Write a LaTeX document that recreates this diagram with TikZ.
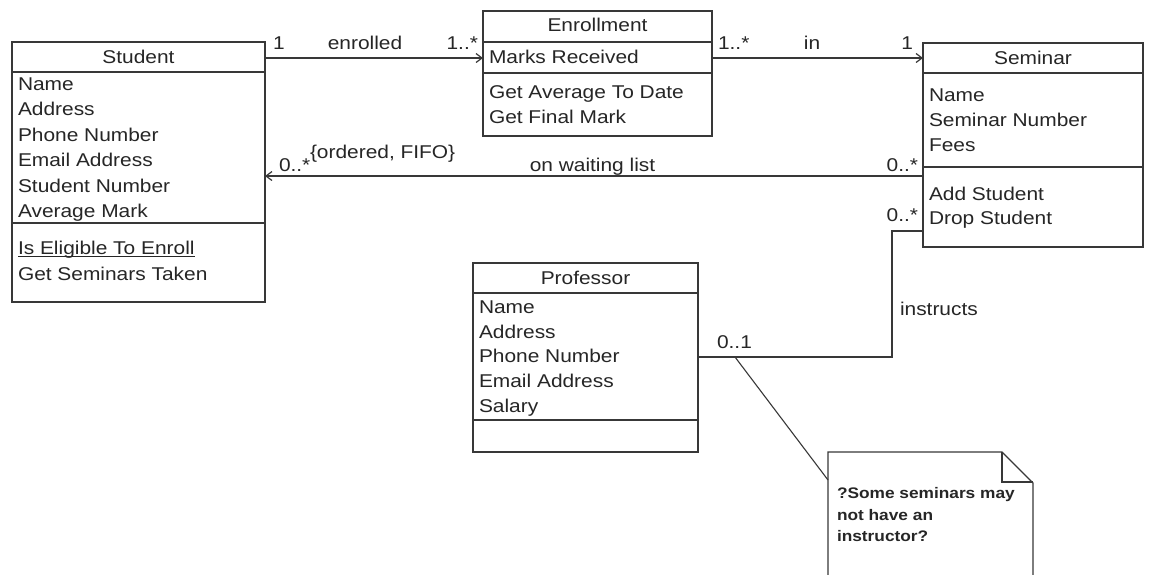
\documentclass[tikz,border=0pt]{standalone}
\usepackage{fontspec}
\setmainfont{Liberation Sans}[FakeStretch=1.13]
\usetikzlibrary{arrows.meta}
\definecolor{ink}{HTML}{262626}
\definecolor{wire}{HTML}{383838}
\newcommand\myul[1]{\setbox0\hbox{#1}\rlap{\rule[-2.6pt]{\wd0}{1.1pt}}\box0}
\begin{document}
\begin{tikzpicture}[x=1pt,y=-1pt,
  every node/.style={inner sep=0pt, outer sep=0pt, text=ink, font=\fontsize{18.5}{25}\selectfont},
  classbox/.style={draw=wire, line width=1.3pt, anchor=north west},
  txt/.style={anchor=base west},
  ttl/.style={anchor=base},
  lblr/.style={anchor=base east},
  conn/.style={draw=wire, line width=1.3pt},
  tip/.style={-{Straight Barb[length=6pt,width=9pt,line width=1.2pt]}},
  notetxt/.style={anchor=base west, font=\bfseries\fontsize{15.3}{21.5}\selectfont}]
\useasboundingbox (0,0) rectangle (1152,574);
\fill[white] (0,0) rectangle (1152,574);

% Student
\node[classbox, minimum width=253pt, minimum height=260pt] (student) at (12,42) {};
\draw[conn] (student.west |- 0,72) -- (student.east |- 0,72);
\draw[conn] (student.west |- 0,223) -- (student.east |- 0,223);
\node[ttl] (studentT) at (138.5,63.5) {Student};
\foreach \t [count=\i] in {Name,Address,Phone Number,Email Address,Student Number,Average Mark}
  \node[txt] (sa\i) at (18,65+25.4*\i) {\t};
\node[txt] (sm1) at (18,254.5) {\myul{Is Eligible To Enroll}};
\node[txt] (sm2) at (18,280.5) {Get Seminars Taken};

% Enrollment
\node[classbox, minimum width=229pt, minimum height=125pt] (enroll) at (483,11) {};
\draw[conn] (enroll.west |- 0,42) -- (enroll.east |- 0,42);
\draw[conn] (enroll.west |- 0,73) -- (enroll.east |- 0,73);
\node[ttl] (enrollT) at (597.5,31.5) {Enrollment};
\node[txt] (ea1) at (489,63.5) {Marks Received};
\node[txt] (em1) at (489,98.5) {Get Average To Date};
\node[txt] (em2) at (489,123.5) {Get Final Mark};

% Seminar
\node[classbox, minimum width=220pt, minimum height=204pt] (seminar) at (923,43) {};
\draw[conn] (seminar.west |- 0,73) -- (seminar.east |- 0,73);
\draw[conn] (seminar.west |- 0,167) -- (seminar.east |- 0,167);
\node[ttl] (seminarT) at (1033,64.5) {Seminar};
\node[txt] (ga1) at (929,101.5) {Name};
\node[txt] (ga2) at (929,126.5) {Seminar Number};
\node[txt] (ga3) at (929,151.5) {Fees};
\node[txt] (gm1) at (929,200.5) {Add Student};
\node[txt] (gm2) at (929,224.5) {Drop Student};

% Professor
\node[classbox, minimum width=225pt, minimum height=189pt] (prof) at (473,263) {};
\draw[conn] (prof.west |- 0,293) -- (prof.east |- 0,293);
\draw[conn] (prof.west |- 0,420) -- (prof.east |- 0,420);
\node[ttl] (profT) at (585.5,284.5) {Professor};
\foreach \t [count=\i] in {Name,Address,Phone Number,Email Address,Salary}
  \node[txt] (pa\i) at (479,288.5+24.8*\i) {\t};

% Associations
\draw[conn,tip] (student.east |- 0,58) -- (enroll.west |- 0,58);
\draw[conn,tip] (enroll.east |- 0,58) -- (seminar.west |- 0,58);
\draw[conn,tip] (seminar.west |- 0,176) -- (student.east |- 0,176);
\coordinate (bend) at (892,357);
\draw[conn] (seminar.west |- 0,231) -| (bend) -- (prof.east |- 0,357);

\node[txt] (m1) at (273,49.5) {1};
\node[ttl] (m2) at (365,49.5) {enrolled};
\node[lblr] (m3) at (478,49.5) {1..*};
\node[txt] (m4) at (718,49.5) {1..*};
\node[ttl] (m5) at (812,49.5) {in};
\node[lblr] (m6) at (913,49.5) {1};
\node[lblr] (m7) at (918,171.5) {0..*};
\node[ttl] (m8) at (592.5,171.5) {on waiting list};
\node[txt] (m9) at (279,171.5) {0..*};
\node[txt] (m10) at (310,158.5) {\{ordered, FIFO\}};
\node[lblr] (m11) at (918,221.5) {0..*};
\node[txt] (m12) at (900,315.5) {instructs};
\node[txt] (m13) at (717,348.5) {0..1};

% Note
\coordinate (notept) at (735,357);
\coordinate (noteatt) at (828,480);
\draw[conn, line width=1.1pt] (notept) -- (noteatt);
\draw[conn, line join=miter] (828,580) -- (828,452) -- (1002,452) -- (1033,483) -- (1033,580);
\draw[conn] (1002,452) -- (1002,482) -- (1033,482);
\node[notetxt] (n1) at (837,498.5) {?Some seminars may};
\node[notetxt] (n2) at (837,520) {not have an};
\node[notetxt] (n3) at (837,541.5) {instructor?};
\end{tikzpicture}
\end{document}
